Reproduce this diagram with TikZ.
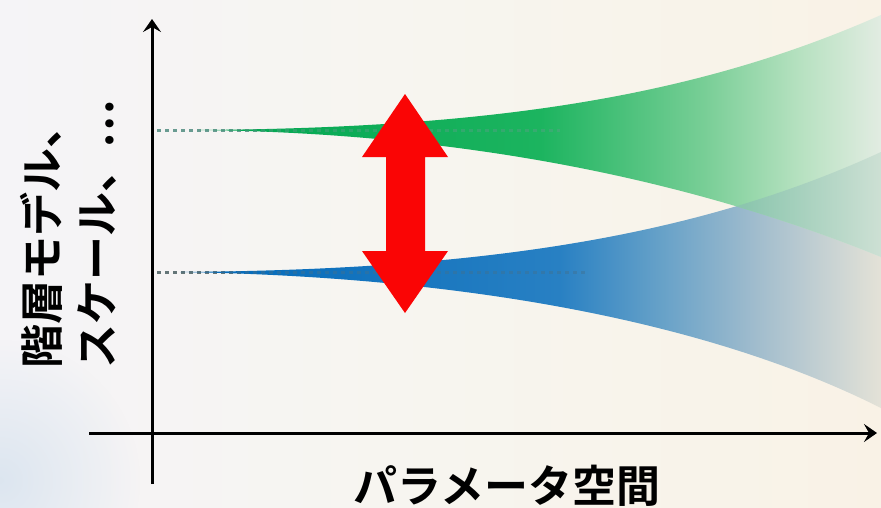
\documentclass[tikz,border=0pt]{standalone}
\usepackage{fontspec}
\newfontfamily\jp[BoldFont={Noto Sans CJK JP Bold}]{Noto Sans CJK JP}
\usetikzlibrary{arrows.meta,fadings}

\tikzfading[name=glowfade, inner color=transparent!0, outer color=transparent!100]

\definecolor{bgl}{RGB}{245,244,247}
\definecolor{bgm}{RGB}{247,245,239}
\definecolor{bgr}{RGB}{249,242,230}
\definecolor{glow}{RGB}{214,226,238}

\definecolor{g0}{RGB}{0,166,81}
\definecolor{g1}{RGB}{28,180,95}
\definecolor{g2}{RGB}{120,206,150}
\definecolor{g3}{RGB}{182,225,192}
\definecolor{g4}{RGB}{226,236,226}
\pgfdeclarehorizontalshading{greenfunnel}{100bp}{color(0bp)=(g0); color(25bp)=(g0); color(50bp)=(g1); color(62bp)=(g2); color(69bp)=(g3); color(75bp)=(g4); color(100bp)=(g4)}

\definecolor{b0}{RGB}{0,104,185}
\definecolor{b1}{RGB}{40,128,195}
\definecolor{b2}{RGB}{100,160,200}
\definecolor{b3}{RGB}{160,188,205}
\definecolor{b4}{RGB}{228,226,215}
\pgfdeclarehorizontalshading{bluefunnel}{100bp}{color(0bp)=(b0); color(25bp)=(b0); color(52bp)=(b1); color(59bp)=(b2); color(66bp)=(b3); color(75bp)=(b4); color(100bp)=(b4)}

\definecolor{o0}{RGB}{140,198,174}
\definecolor{o1}{RGB}{205,224,212}
\pgfdeclarehorizontalshading{overlapfunnel}{100bp}{color(0bp)=(o0); color(65bp)=(o0); color(75bp)=(o1); color(100bp)=(o1)}

\definecolor{dotg}{RGB}{105,155,145}
\definecolor{dotb}{RGB}{130,122,100}
\definecolor{arrowred}{RGB}{250,5,5}

\tikzset{
  axis/.style={line width=3pt, black, -{Stealth[length=13pt,width=18pt,inset=5pt]}},
  dotline/.style={line width=3pt, dash pattern=on 4pt off 4pt},
  label/.style={font=\jp\bfseries\fontsize{44}{55}\selectfont, inner sep=0pt, text=black},
}

\begin{document}
\begin{tikzpicture}[x=1pt,y=-1pt]
\useasboundingbox (0,0) rectangle (881,507);
% background
\shade[left color=bgl, right color=bgr, middle color=bgm] (0,0) rectangle (881,507);
\fill[glow, opacity=0.8, path fading=glowfade] (0,480) circle (140pt);

% dotted guide lines (under funnels)
\coordinate (gstart) at (157,130);
\coordinate (gend) at (560,130);
\coordinate (bstart) at (157,272);
\coordinate (bend) at (586,272);
\draw[dotline, dotg] (gstart) -- (gend);
\draw[dotline, dotb] (bstart) -- (bend);

% blue funnel
\path[shading=bluefunnel]
  (180,272) .. controls (470,270) and (690,240) .. (881,152)
  -- (881,408) .. controls (690,312) and (430,276) .. (180,272) -- cycle;
% green funnel
\path[shading=greenfunnel]
  (200,130) .. controls (500,128) and (700,95) .. (881,15)
  -- (881,257) .. controls (680,175) and (450,133) .. (200,130) -- cycle;
% overlap
\begin{scope}
\clip (180,272) .. controls (470,270) and (690,240) .. (881,152)
  -- (881,408) .. controls (690,312) and (430,276) .. (180,272) -- cycle;
\path[shading=overlapfunnel]
  (200,130) .. controls (500,128) and (700,95) .. (881,15)
  -- (881,257) .. controls (680,175) and (450,133) .. (200,130) -- cycle;
\end{scope}

% faint dots over the funnels
\draw[dotline, dotg, opacity=0.35] (gstart) -- (gend);
\draw[dotline, dotb!50!b0, opacity=0.45] (bstart) -- (bend);

% red double arrow
\fill[arrowred] (405,94) -- (448,157) -- (425,157) -- (425,251) -- (448,251)
  -- (405,313) -- (362,251) -- (386,251) -- (386,157) -- (362,157) -- cycle;

% axes
\coordinate (ybot) at (152,484);
\coordinate (ytop) at (152,19);
\coordinate (xleft) at (89,433);
\coordinate (xright) at (877,433);
\draw[axis] (ybot) -- (ytop);
\draw[axis] (xleft) -- (xright);

% labels
\node[label, rotate=90, anchor=base west] (ylab1) at (58,369) {階層モデル、};
\node[label, rotate=90, anchor=base west] (ylab2) at (113,369) {スケール、…};
\node[label, anchor=base] (xlab) at (507,502) {パラメータ空間};
\end{tikzpicture}
\end{document}
